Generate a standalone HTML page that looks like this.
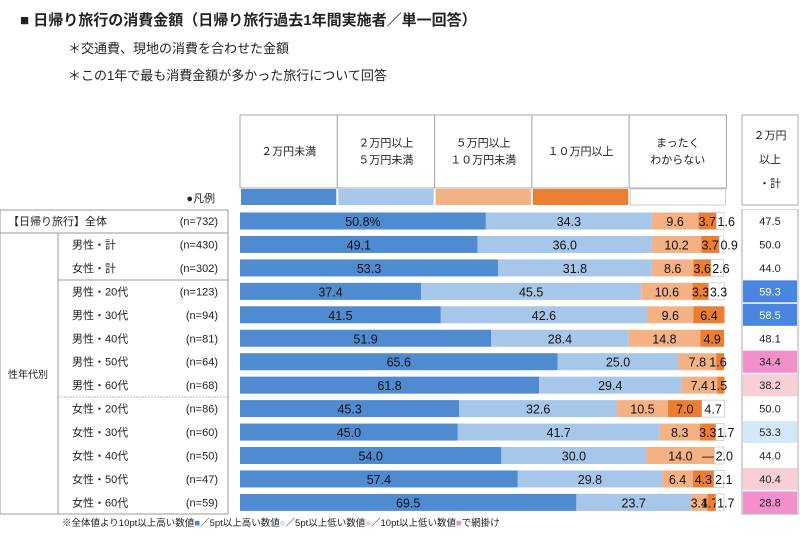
<!DOCTYPE html>
<html><head><meta charset="utf-8"><style>
body{margin:0;background:#fff;}
svg text{font-family:"Liberation Sans","Noto Sans CJK JP",sans-serif;}
</style></head><body>
<svg id="c" width="800" height="538" xmlns="http://www.w3.org/2000/svg">
<text x="20" y="25" font-size="15" font-weight="bold" fill="#222">■ 日帰り旅行の消費金額（日帰り旅行過去1年間実施者／単一回答）</text>
<text x="68" y="53" font-size="13" fill="#222">＊交通費、現地の消費を合わせた金額</text>
<text x="68" y="80" font-size="13" fill="#222">＊この1年で最も消費金額が多かった旅行について回答</text>
<g id="hdr"></g><g id="left"></g><g id="bars"></g><g id="right"></g>
<text x="62" y="526" font-size="9.5" fill="#222">※全体値より10pt以上高い数値<tspan fill="#4a86e0">■</tspan>／5pt以上高い数値<tspan fill="#cfe6f7">■</tspan>／5pt以上低い数値<tspan fill="#f7c9d2">■</tspan>／10pt以上低い数値<tspan fill="#f38fcb">■</tspan>で網掛け</text>
</svg>
<script>
const categories=["２万円未満","２万円以上 ５万円未満","５万円以上 １０万円未満","１０万円以上","まったく わからない"];
const rowLabels=["【日帰り旅行】全体","男性・計","女性・計","男性・20代","男性・30代","男性・40代","男性・50代","男性・60代","女性・20代","女性・30代","女性・40代","女性・50代","女性・60代"];
const rowN=["(n=732)","(n=430)","(n=302)","(n=123)","(n=94)","(n=81)","(n=64)","(n=68)","(n=86)","(n=60)","(n=50)","(n=47)","(n=59)"];
const s1=[50.8,49.1,53.3,37.4,41.5,51.9,65.6,61.8,45.3,45.0,54.0,57.4,69.5];
const s2=[34.3,36.0,31.8,45.5,42.6,28.4,25.0,29.4,32.6,41.7,30.0,29.8,23.7];
const s3=[9.6,10.2,8.6,10.6,9.6,14.8,7.8,7.4,10.5,8.3,14.0,6.4,3.4];
const s4=[3.7,3.7,3.6,3.3,6.4,4.9,1.6,1.5,7.0,3.3,0,4.3,1.7];
const s5=[1.6,0.9,2.6,3.3,0,0,0,0,4.7,1.7,2.0,2.1,1.7];
const over2=[47.5,50.0,44.0,59.3,58.5,48.1,34.4,38.2,50.0,53.3,44.0,40.4,28.8];
const NS="http://www.w3.org/2000/svg";
const colors=["#4f8bd0","#a7c7ea","#f4b183","#ed7d31","#ffffff"];
const X0=240,W=484,Y0=221,DY=23.45,BH=17;
const x=v=>X0+v/100*W, y=i=>Y0+i*DY;
function mk(tag,attrs,parent,txt){const e=document.createElementNS(NS,tag);for(const k in attrs)e.setAttribute(k,attrs[k]);if(txt!==undefined)e.textContent=txt;document.getElementById(parent).appendChild(e);return e;}
for(let j=0;j<5;j++){
 const hx=X0+j*97.3;
 const r=mk('rect',{x:hx,y:115,width:97.3,height:73,fill:'#fff',stroke:'#aaa'},'hdr');
 
 
 const parts=categories[j].split(' ');
 parts.forEach((p,k)=>{const t=mk('text',{x:hx+48.6,y:155+(k-(parts.length-1)/2)*17,'font-size':11,'text-anchor':'middle',fill:'#222'},'hdr',p);
 
 });
 const sw=mk('rect',{x:hx+1,y:189,width:95.3,height:16,fill:colors[j],stroke:j==4?'#ccc':'none'},'hdr');
 
 
}
let t=mk('text',{x:215,y:202,'font-size':11,'text-anchor':'end',fill:'#222'},'hdr','●凡例');


const rh=mk('rect',{x:742,y:115,width:56,height:90,fill:'#fff',stroke:'#aaa'},'hdr');


["２万円","以上","・計"].forEach((p,k)=>{const e=mk('text',{x:770,y:139+k*24,'font-size':11,'text-anchor':'middle',fill:'#222'},'hdr',p);

});
const lb=[[0,210,228,23],[0,233,228,281]];
lb.forEach(b=>{const r=mk('rect',{x:b[0],y:b[1],width:b[2],height:b[3],fill:'#fff',stroke:'#999'},'left');});
mk('line',{x1:58,y1:233,x2:58,y2:514,stroke:'#999'},'left');
mk('line',{x1:58,y1:280,x2:228,y2:280,stroke:'#999'},'left');
mk('line',{x1:58,y1:397,x2:228,y2:397,stroke:'#bbb','stroke-dasharray':'2,1'},'left');
t=mk('text',{x:28,y:378,'font-size':10,'text-anchor':'middle',fill:'#222'},'left','性年代別');


const rr=mk('rect',{x:742,y:210,width:56,height:304,fill:'#fff',stroke:'#aaa'},'right');


function cellColor(v){const d=v-over2[0];if(d>=10)return'#4a86e0';if(d>=5)return'#d3e9f8';if(d<=-10)return'#f38fcb';if(d<=-5)return'#f8cfd7';return'#fff';}
const series=[s1,s2,s3,s4,s5];
for(let i=0;i<rowLabels.length;i++){
 const cy=y(i);
 const lx=i==0?8:72;
 let e=mk('text',{x:lx,y:cy+4,'font-size':11,fill:'#222'},'left',rowLabels[i]);
 
 
 e=mk('text',{x:218,y:cy+4,'font-size':11,'text-anchor':'end',fill:'#222'},'left',rowN[i]);
 
 
 let acc=0;
 for(let j=0;j<5;j++){
  const v=series[j][i];const a=x(acc),b=x(acc+v);
  if(v>0){const r=mk('rect',{x:a,y:cy-BH/2,width:b-a,height:BH,fill:colors[j],stroke:j==4?'#bbb':'none','stroke-width':0.6},'bars');
  
  }
  let lxp=(a+b)/2;
  if(j>=2){lxp=Math.min((a+b)/2, b-6);}
  const lbl=(j==0&&i==0)?v.toFixed(1)+'%':(v==0&&j==3&&s5[i]>0?'—':v.toFixed(1));
  if(v>0||(j==3&&s5[i]>0&&v==0)){
   const tt=mk('text',{x:j==4?Math.max(lxp,a+10):lxp,y:cy+5,'font-size':12.5,'text-anchor':'middle',fill:'#111'},'bars',lbl);
   
   
  }
  acc+=v;
 }
 const bg=mk('rect',{x:743,y:cy-11,width:54,height:22,fill:cellColor(over2[i])},'right');
 
 
 const dark=cellColor(over2[i])=='#4a86e0';
 e=mk('text',{x:770,y:cy+4,'font-size':11,'text-anchor':'middle',fill:dark?'#fff':'#222'},'right',over2[i].toFixed(1));
 
 
}
</script>
</body></html>
